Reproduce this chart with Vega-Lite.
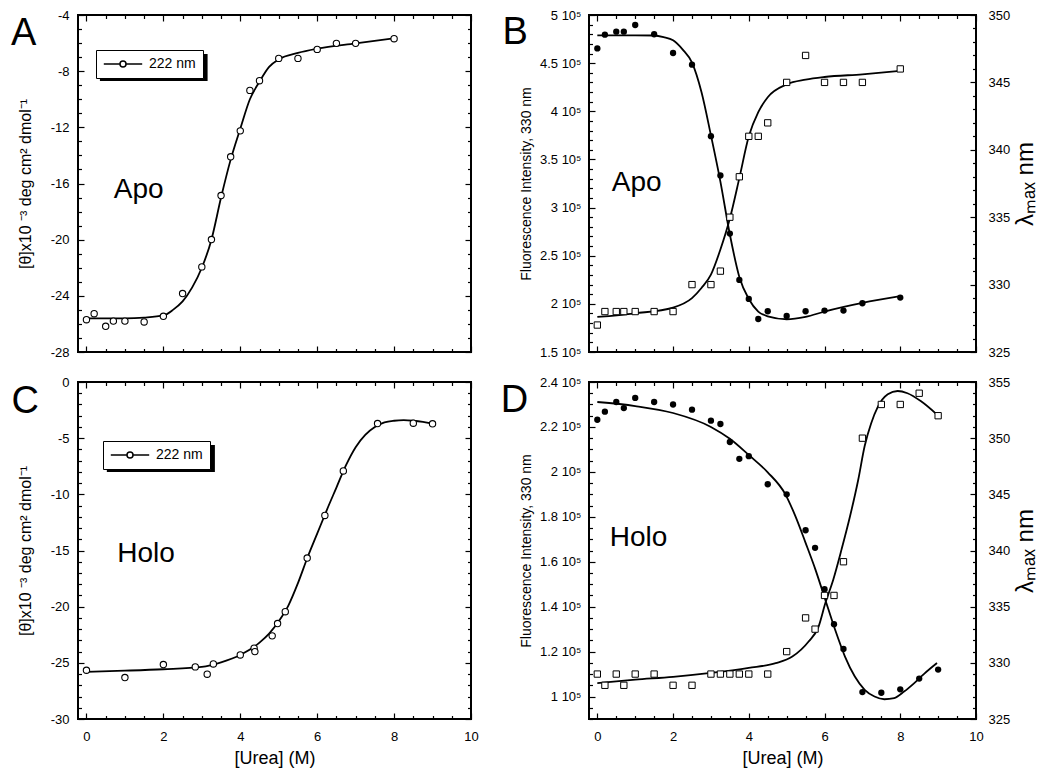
{
  "$schema": "https://vega.github.io/schema/vega-lite/v6.json",
  "padding": {"left": 10, "top": 8, "right": 5, "bottom": 5},
  "datasets": {
    "cdApo": [
      {"urea": 0, "theta": -25.7}, {"urea": 0.2, "theta": -25.27}, {"urea": 0.5, "theta": -26.17}, {"urea": 0.7, "theta": -25.8},
      {"urea": 1.0, "theta": -25.8}, {"urea": 1.5, "theta": -25.86}, {"urea": 2.0, "theta": -25.46}, {"urea": 2.5, "theta": -23.84},
      {"urea": 3.0, "theta": -21.94}, {"urea": 3.25, "theta": -19.99}, {"urea": 3.5, "theta": -16.86}, {"urea": 3.75, "theta": -14.1},
      {"urea": 4.0, "theta": -12.25}, {"urea": 4.25, "theta": -9.37}, {"urea": 4.5, "theta": -8.68}, {"urea": 5.0, "theta": -7.09},
      {"urea": 5.5, "theta": -7.09}, {"urea": 6.0, "theta": -6.45}, {"urea": 6.5, "theta": -6.02}, {"urea": 7.0, "theta": -6.02},
      {"urea": 8.0, "theta": -5.69}
    ],
    "cdApoFit": [
      {"urea": 0, "theta": -25.6}, {"urea": 0.5, "theta": -25.6}, {"urea": 1, "theta": -25.6}, {"urea": 1.5, "theta": -25.55},
      {"urea": 2, "theta": -25.4}, {"urea": 2.25, "theta": -25.0}, {"urea": 2.5, "theta": -24.4}, {"urea": 2.75, "theta": -23.4},
      {"urea": 3, "theta": -22.0}, {"urea": 3.25, "theta": -20.0}, {"urea": 3.5, "theta": -17.0}, {"urea": 3.75, "theta": -14.3},
      {"urea": 4, "theta": -12.1}, {"urea": 4.25, "theta": -10.0}, {"urea": 4.5, "theta": -8.75}, {"urea": 4.75, "theta": -7.7},
      {"urea": 5, "theta": -7.16}, {"urea": 5.5, "theta": -6.7}, {"urea": 6, "theta": -6.4}, {"urea": 7, "theta": -6.02},
      {"urea": 8, "theta": -5.66}
    ],
    "cdHolo": [
      {"urea": 0, "theta": -25.66}, {"urea": 1, "theta": -26.31}, {"urea": 2, "theta": -25.15}, {"urea": 2.83, "theta": -25.36},
      {"urea": 3.14, "theta": -26.01}, {"urea": 3.3, "theta": -25.1}, {"urea": 4, "theta": -24.3}, {"urea": 4.36, "theta": -23.7},
      {"urea": 4.38, "theta": -24.0}, {"urea": 4.83, "theta": -22.6}, {"urea": 4.97, "theta": -21.5}, {"urea": 5.17, "theta": -20.45},
      {"urea": 5.74, "theta": -15.67}, {"urea": 6.2, "theta": -11.88}, {"urea": 6.68, "theta": -7.92}, {"urea": 7.57, "theta": -3.7},
      {"urea": 8.5, "theta": -3.67}, {"urea": 9.0, "theta": -3.72}
    ],
    "cdHoloFit": [
      {"urea": 0, "theta": -25.8}, {"urea": 1, "theta": -25.7}, {"urea": 2, "theta": -25.57}, {"urea": 3, "theta": -25.36},
      {"urea": 3.5, "theta": -24.95}, {"urea": 4, "theta": -24.3}, {"urea": 4.5, "theta": -23.2}, {"urea": 4.75, "theta": -22.4},
      {"urea": 5, "theta": -21.3}, {"urea": 5.25, "theta": -19.9}, {"urea": 5.5, "theta": -17.9}, {"urea": 5.75, "theta": -15.6},
      {"urea": 6, "theta": -13.5}, {"urea": 6.25, "theta": -11.4}, {"urea": 6.5, "theta": -9.4}, {"urea": 6.75, "theta": -7.4},
      {"urea": 7, "theta": -5.8}, {"urea": 7.25, "theta": -4.7}, {"urea": 7.5, "theta": -4.0}, {"urea": 7.75, "theta": -3.6},
      {"urea": 8, "theta": -3.45}, {"urea": 8.25, "theta": -3.4}, {"urea": 8.5, "theta": -3.45}, {"urea": 8.75, "theta": -3.55},
      {"urea": 9, "theta": -3.7}
    ],
    "flApo": [
      {"urea": 0, "intensity": 465300, "lambda": 327}, {"urea": 0.2, "intensity": 479600, "lambda": 328},
      {"urea": 0.5, "intensity": 482700, "lambda": 328}, {"urea": 0.7, "intensity": 482700, "lambda": 328},
      {"urea": 1.0, "intensity": 489600, "lambda": 328}, {"urea": 1.5, "intensity": 480000, "lambda": 328},
      {"urea": 2.0, "intensity": 460500, "lambda": 328}, {"urea": 2.5, "intensity": 448400, "lambda": 330},
      {"urea": 3.0, "intensity": 374200, "lambda": 330}, {"urea": 3.25, "intensity": 333300, "lambda": 331},
      {"urea": 3.5, "intensity": 273000, "lambda": 335}, {"urea": 3.75, "intensity": 224900, "lambda": 338},
      {"urea": 4.0, "intensity": 205100, "lambda": 341}, {"urea": 4.25, "intensity": 184300, "lambda": 341},
      {"urea": 4.5, "intensity": 192300, "lambda": 342}, {"urea": 5.0, "intensity": 187500, "lambda": 345},
      {"urea": 5.5, "intensity": 192300, "lambda": 347}, {"urea": 6.0, "intensity": 193000, "lambda": 345},
      {"urea": 6.5, "intensity": 193000, "lambda": 345}, {"urea": 7.0, "intensity": 200600, "lambda": 345},
      {"urea": 8.0, "intensity": 206500, "lambda": 346}
    ],
    "flApoFit": [
      {"urea": 0, "intensity": 478900}, {"urea": 1, "intensity": 478900}, {"urea": 1.5, "intensity": 478700},
      {"urea": 1.75, "intensity": 477000}, {"urea": 2, "intensity": 473700}, {"urea": 2.25, "intensity": 464300},
      {"urea": 2.5, "intensity": 450500}, {"urea": 2.75, "intensity": 420000}, {"urea": 3, "intensity": 375000},
      {"urea": 3.25, "intensity": 327000}, {"urea": 3.5, "intensity": 272000}, {"urea": 3.75, "intensity": 228000},
      {"urea": 4, "intensity": 205000}, {"urea": 4.25, "intensity": 192000}, {"urea": 4.5, "intensity": 187000},
      {"urea": 5, "intensity": 184000}, {"urea": 5.5, "intensity": 186500}, {"urea": 6, "intensity": 192000},
      {"urea": 7, "intensity": 201000}, {"urea": 8, "intensity": 208000}
    ],
    "lmApoFit": [
      {"urea": 0, "lambda": 327.6}, {"urea": 1, "lambda": 327.87}, {"urea": 2, "lambda": 328.3}, {"urea": 2.5, "lambda": 329.0},
      {"urea": 2.75, "lambda": 329.75}, {"urea": 3, "lambda": 330.74}, {"urea": 3.25, "lambda": 332.6}, {"urea": 3.5, "lambda": 334.9},
      {"urea": 3.75, "lambda": 337.9}, {"urea": 4, "lambda": 341.0}, {"urea": 4.25, "lambda": 342.8}, {"urea": 4.5, "lambda": 343.9},
      {"urea": 5, "lambda": 344.85}, {"urea": 5.5, "lambda": 345.2}, {"urea": 6, "lambda": 345.4}, {"urea": 7, "lambda": 345.6},
      {"urea": 8, "lambda": 345.85}
    ],
    "flHolo": [
      {"urea": 0, "intensity": 223200, "lambda": 329}, {"urea": 0.2, "intensity": 226800, "lambda": 328},
      {"urea": 0.5, "intensity": 231100, "lambda": 329}, {"urea": 0.7, "intensity": 228400, "lambda": 328},
      {"urea": 1.0, "intensity": 232900, "lambda": 329}, {"urea": 1.5, "intensity": 231100, "lambda": 329},
      {"urea": 2.0, "intensity": 230000, "lambda": 328}, {"urea": 2.5, "intensity": 227700, "lambda": 328},
      {"urea": 3.0, "intensity": 222800, "lambda": 329}, {"urea": 3.25, "intensity": 221300, "lambda": 329},
      {"urea": 3.5, "intensity": 213300, "lambda": 329}, {"urea": 3.75, "intensity": 205800, "lambda": 329},
      {"urea": 4.0, "intensity": 207000, "lambda": 329}, {"urea": 4.5, "intensity": 194500, "lambda": 329},
      {"urea": 5.0, "intensity": 190000, "lambda": 331}, {"urea": 5.5, "intensity": 174000, "lambda": 334},
      {"urea": 5.75, "intensity": 166200, "lambda": 333}, {"urea": 6.0, "intensity": 147800, "lambda": 336},
      {"urea": 6.25, "intensity": 132200, "lambda": 336}, {"urea": 6.5, "intensity": 121200, "lambda": 339},
      {"urea": 7.0, "intensity": 102000, "lambda": 350}, {"urea": 7.5, "intensity": 101700, "lambda": 353},
      {"urea": 8.0, "intensity": 103200, "lambda": 353}, {"urea": 8.5, "intensity": 108000, "lambda": 354},
      {"urea": 9.0, "intensity": 112000, "lambda": 352}
    ],
    "flHoloFit": [
      {"urea": 0, "intensity": 231100}, {"urea": 1, "intensity": 229300}, {"urea": 2, "intensity": 226200},
      {"urea": 3, "intensity": 220000}, {"urea": 3.5, "intensity": 214700}, {"urea": 4, "intensity": 207500},
      {"urea": 4.5, "intensity": 199800}, {"urea": 4.97, "intensity": 189900},
      {"urea": 5.23, "intensity": 180300}, {"urea": 5.5, "intensity": 168400}, {"urea": 5.76, "intensity": 156500},
      {"urea": 6.02, "intensity": 143100}, {"urea": 6.28, "intensity": 129700}, {"urea": 6.54, "intensity": 117800},
      {"urea": 6.8, "intensity": 108900}, {"urea": 7.06, "intensity": 103000}, {"urea": 7.32, "intensity": 100000},
      {"urea": 7.58, "intensity": 98800}, {"urea": 7.84, "intensity": 99300}, {"urea": 8.1, "intensity": 102200},
      {"urea": 8.37, "intensity": 106000}, {"urea": 8.63, "intensity": 110100}, {"urea": 8.97, "intensity": 114900}
    ],
    "lmHoloFit": [
      {"urea": 0, "lambda": 328.2}, {"urea": 1, "lambda": 328.5}, {"urea": 2, "lambda": 328.75}, {"urea": 3, "lambda": 329.1},
      {"urea": 4, "lambda": 329.55}, {"urea": 4.71, "lambda": 329.97}, {"urea": 5.15, "lambda": 330.56}, {"urea": 5.58, "lambda": 331.9},
      {"urea": 5.84, "lambda": 333.2}, {"urea": 6.02, "lambda": 335.3}, {"urea": 6.23, "lambda": 337.4}, {"urea": 6.45, "lambda": 340.1},
      {"urea": 6.67, "lambda": 343.0}, {"urea": 6.89, "lambda": 346.3}, {"urea": 7.06, "lambda": 349.3}, {"urea": 7.23, "lambda": 351.3},
      {"urea": 7.41, "lambda": 352.8}, {"urea": 7.67, "lambda": 353.9}, {"urea": 7.93, "lambda": 354.2}, {"urea": 8.19, "lambda": 354.0},
      {"urea": 8.54, "lambda": 353.3}, {"urea": 8.97, "lambda": 352.1}
    ]
  },
  "columns": 2,
  "spacing": {"row": 30, "column": 118},
  "bounds": "flush",
  "resolve": {"scale": {"color": "independent"}, "legend": {"color": "independent"}},
  "concat": [
    {
      "width": 393, "height": 337,
      "layer": [
        {
          "data": {"values": [{}]},
          "mark": {"type": "rect", "color": "black", "opacity": 1},
          "encoding": {
            "x": {"datum": 0.35, "type": "quantitative", "scale": {"domain": [-0.22, 10], "nice": false, "zero": false}, "axis": null},
            "x2": {"datum": 3.15},
            "y": {"datum": -6.78, "type": "quantitative", "scale": {"domain": [-28, -4], "nice": false, "zero": false}, "axis": null},
            "y2": {"datum": -8.7}
          }
        },
        {
          "data": {"name": "cdApoFit"},
          "mark": {"type": "line", "color": "black", "strokeWidth": 1.8, "interpolate": "monotone"},
          "encoding": {
            "x": {"field": "urea", "type": "quantitative", "scale": {"domain": [-0.22, 10], "nice": false, "zero": false},
                  "axis": {"orient": "bottom", "values": [0, 2, 4, 6, 8, 10], "tickSize": -6, "labels": false, "title": null}},
            "y": {"field": "theta", "type": "quantitative", "scale": {"domain": [-28, -4], "nice": false, "zero": false},
                  "axis": {"orient": "left", "values": [-28, -24, -20, -16, -12, -8, -4], "tickSize": -6, "labelPadding": 15,
                           "labelExpr": "datum.value + ''", "title": "[θ]x10 ⁻³ deg cm² dmol⁻¹", "titleFontSize": 16, "titlePadding": 17}}
          }
        },
        {
          "data": {"name": "cdApo"},
          "mark": {"type": "point", "shape": "circle", "filled": false, "fill": "white", "strokeWidth": 1.1, "size": 40, "opacity": 1},
          "encoding": {
            "x": {"field": "urea", "type": "quantitative", "scale": {"domain": [-0.22, 10], "nice": false, "zero": false},
                  "axis": {"orient": "bottom", "values": [0.5, 1, 1.5, 2.5, 3, 3.5, 4.5, 5, 5.5, 6.5, 7, 7.5, 8.5, 9, 9.5], "tickSize": -3.5, "labels": false, "title": null}},
            "y": {"field": "theta", "type": "quantitative", "scale": {"domain": [-28, -4], "nice": false, "zero": false},
                  "axis": {"orient": "left", "values": [-27, -26, -25, -23, -22, -21, -19, -18, -17, -15, -14, -13, -11, -10, -9, -7, -6, -5], "tickSize": -3.5, "labels": false, "title": null}},
            "color": {"datum": "222 nm", "type": "nominal", "scale": {"range": ["black"]},
                      "legend": {"title": null, "orient": "none", "legendX": 18, "legendY": 35,
                                 "symbolType": "M-3.2,0H-0.5M0.5,0H3.2M0.5,0A0.5,0.5,0,1,1,-0.5,0A0.5,0.5,0,1,1,0.5,0Z",
                                 "symbolSize": 144, "symbolOffset": 13, "labelFontSize": 14, "labelColor": "black", "labelOffset": 19,
                                 "padding": 7, "strokeColor": "black", "fillColor": "white",
                                 "encode": {"symbols": {"update": {"fill": {"value": "white"}, "stroke": {"value": "black"}, "strokeWidth": {"value": 1.5}, "opacity": {"value": 1}}},
                                            "legend": {"update": {"strokeWidth": {"value": 1.5}}}}}}
          }
        },
        {
          "data": {"values": [{}]},
          "mark": {"type": "text", "text": "Apo", "fontSize": 28, "align": "center", "baseline": "alphabetic", "color": "black"},
          "encoding": {
            "x": {"datum": 1.36, "type": "quantitative", "scale": {"domain": [-0.22, 10], "nice": false, "zero": false},
                  "axis": {"orient": "top", "values": [0, 2, 4, 6, 8, 10], "tickSize": -6, "labels": false, "title": null}},
            "y": {"datum": -17.0, "type": "quantitative", "scale": {"domain": [-28, -4], "nice": false, "zero": false},
                  "axis": {"orient": "right", "values": [-28, -24, -20, -16, -12, -8, -4], "tickSize": -6, "labels": false, "title": null}}
          }
        },
        {
          "data": {"values": [{}]},
          "mark": {"type": "text", "text": "A", "fontSize": 38, "align": "center", "baseline": "alphabetic", "color": "black"},
          "encoding": {
            "x": {"datum": -1.63, "type": "quantitative", "scale": {"domain": [-0.22, 10], "nice": false, "zero": false},
                  "axis": {"orient": "top", "values": [0.5, 1, 1.5, 2.5, 3, 3.5, 4.5, 5, 5.5, 6.5, 7, 7.5, 8.5, 9, 9.5], "tickSize": -3.5, "labels": false, "title": null}},
            "y": {"datum": -6.14, "type": "quantitative", "scale": {"domain": [-28, -4], "nice": false, "zero": false},
                  "axis": {"orient": "right", "values": [-27, -26, -25, -23, -22, -21, -19, -18, -17, -15, -14, -13, -11, -10, -9, -7, -6, -5], "tickSize": -3.5, "labels": false, "title": null}}
          }
        }
      ],
      "resolve": {"scale": {"x": "independent", "y": "independent"}, "axis": {"x": "independent", "y": "independent"}}
    },
    {
      "width": 387, "height": 337,
      "layer": [
        {
          "data": {"name": "flApoFit"},
          "mark": {"type": "line", "color": "black", "strokeWidth": 1.8, "interpolate": "monotone"},
          "encoding": {
            "x": {"field": "urea", "type": "quantitative", "scale": {"domain": [-0.22, 10], "nice": false, "zero": false},
                  "axis": {"orient": "bottom", "values": [0, 2, 4, 6, 8, 10], "tickSize": -6, "labels": false, "title": null}},
            "y": {"field": "intensity", "type": "quantitative", "scale": {"domain": [150000, 500000], "nice": false, "zero": false},
                  "axis": {"orient": "left", "values": [150000, 200000, 250000, 300000, 350000, 400000, 450000, 500000], "tickSize": -6, "labelPadding": 14,
                           "labelExpr": "datum.value / 100000 + ' 10⁵'", "title": "Fluorescence Intensity, 330 nm", "titleFontSize": 14, "titlePadding": 6}}
          }
        },
        {
          "data": {"name": "lmApoFit"},
          "mark": {"type": "line", "color": "black", "strokeWidth": 1.8, "interpolate": "monotone"},
          "encoding": {
            "x": {"field": "urea", "type": "quantitative", "scale": {"domain": [-0.22, 10], "nice": false, "zero": false},
                  "axis": {"orient": "top", "values": [0, 2, 4, 6, 8, 10], "tickSize": -6, "labels": false, "title": null}},
            "y": {"field": "lambda", "type": "quantitative", "scale": {"domain": [325, 350], "nice": false, "zero": false},
                  "axis": {"orient": "right", "values": [325, 330, 335, 340, 345, 350], "tickSize": -6, "labelPadding": 18,
                           "title": "λₘₐₓ nm", "titleFontSize": 24, "titleAngle": 270, "titlePadding": 28}}
          }
        },
        {
          "data": {"name": "flApo"},
          "mark": {"type": "circle", "color": "black", "size": 40, "opacity": 1},
          "encoding": {
            "x": {"field": "urea", "type": "quantitative", "scale": {"domain": [-0.22, 10], "nice": false, "zero": false},
                  "axis": {"orient": "bottom", "values": [0.5, 1, 1.5, 2.5, 3, 3.5, 4.5, 5, 5.5, 6.5, 7, 7.5, 8.5, 9, 9.5], "tickSize": -3.5, "labels": false, "title": null}},
            "y": {"field": "intensity", "type": "quantitative", "scale": {"domain": [150000, 500000], "nice": false, "zero": false},
                  "axis": {"orient": "left", "values": [160000, 170000, 180000, 190000, 210000, 220000, 230000, 240000, 260000, 270000, 280000, 290000, 310000, 320000, 330000, 340000, 360000, 370000, 380000, 390000, 410000, 420000, 430000, 440000, 460000, 470000, 480000, 490000], "tickSize": -3.5, "labels": false, "title": null}}
          }
        },
        {
          "data": {"name": "flApo"},
          "mark": {"type": "point", "shape": "square", "filled": false, "fill": "white", "stroke": "black", "strokeWidth": 1, "size": 40, "opacity": 1},
          "encoding": {
            "x": {"field": "urea", "type": "quantitative", "scale": {"domain": [-0.22, 10], "nice": false, "zero": false},
                  "axis": {"orient": "top", "values": [0.5, 1, 1.5, 2.5, 3, 3.5, 4.5, 5, 5.5, 6.5, 7, 7.5, 8.5, 9, 9.5], "tickSize": -3.5, "labels": false, "title": null}},
            "y": {"field": "lambda", "type": "quantitative", "scale": {"domain": [325, 350], "nice": false, "zero": false},
                  "axis": {"orient": "right", "values": [326, 327, 328, 329, 331, 332, 333, 334, 336, 337, 338, 339, 341, 342, 343, 344, 346, 347, 348, 349], "tickSize": -3.5, "labels": false, "title": null}}
          }
        },
        {
          "data": {"values": [{}]},
          "mark": {"type": "text", "text": "Apo", "fontSize": 28, "align": "center", "baseline": "alphabetic", "color": "black"},
          "encoding": {
            "x": {"datum": 1.04, "type": "quantitative", "scale": {"domain": [-0.22, 10], "nice": false, "zero": false}, "axis": null},
            "y": {"datum": 317000, "type": "quantitative", "scale": {"domain": [150000, 500000], "nice": false, "zero": false}, "axis": null}
          }
        },
        {
          "data": {"values": [{}]},
          "mark": {"type": "text", "text": "B", "fontSize": 38, "align": "center", "baseline": "alphabetic", "color": "black"},
          "encoding": {
            "x": {"datum": -2.17, "type": "quantitative", "scale": {"domain": [-0.22, 10], "nice": false, "zero": false}, "axis": null},
            "y": {"datum": 470000, "type": "quantitative", "scale": {"domain": [150000, 500000], "nice": false, "zero": false}, "axis": null}
          }
        }
      ],
      "resolve": {"scale": {"x": "independent", "y": "independent"}, "axis": {"x": "independent", "y": "independent"}}
    },
    {
      "width": 393, "height": 337,
      "layer": [
        {
          "data": {"values": [{}]},
          "mark": {"type": "rect", "color": "black", "opacity": 1},
          "encoding": {
            "x": {"datum": 0.53, "type": "quantitative", "scale": {"domain": [-0.22, 10], "nice": false, "zero": false}, "axis": null},
            "x2": {"datum": 3.34},
            "y": {"datum": -5.61, "type": "quantitative", "scale": {"domain": [-30, 0], "nice": false, "zero": false}, "axis": null},
            "y2": {"datum": -8.01}
          }
        },
        {
          "data": {"name": "cdHoloFit"},
          "mark": {"type": "line", "color": "black", "strokeWidth": 1.8, "interpolate": "monotone"},
          "encoding": {
            "x": {"field": "urea", "type": "quantitative", "scale": {"domain": [-0.22, 10], "nice": false, "zero": false},
                  "axis": {"orient": "bottom", "values": [0, 2, 4, 6, 8, 10], "tickSize": -6, "labelPadding": 17, "labelFlush": false,
                           "title": "[Urea] (M)", "titleFontSize": 18, "titlePadding": 6}},
            "y": {"field": "theta", "type": "quantitative", "scale": {"domain": [-30, 0], "nice": false, "zero": false},
                  "axis": {"orient": "left", "values": [-30, -25, -20, -15, -10, -5, 0], "tickSize": -6, "labelPadding": 15,
                           "labelExpr": "datum.value + ''", "title": "[θ]x10 ⁻³ deg cm² dmol⁻¹", "titleFontSize": 16, "titlePadding": 17}}
          }
        },
        {
          "data": {"name": "cdHolo"},
          "mark": {"type": "point", "shape": "circle", "filled": false, "fill": "white", "strokeWidth": 1.1, "size": 40, "opacity": 1},
          "encoding": {
            "x": {"field": "urea", "type": "quantitative", "scale": {"domain": [-0.22, 10], "nice": false, "zero": false},
                  "axis": {"orient": "bottom", "values": [0.5, 1, 1.5, 2.5, 3, 3.5, 4.5, 5, 5.5, 6.5, 7, 7.5, 8.5, 9, 9.5], "tickSize": -3.5, "labels": false, "title": null}},
            "y": {"field": "theta", "type": "quantitative", "scale": {"domain": [-30, 0], "nice": false, "zero": false},
                  "axis": {"orient": "left", "values": [-29, -28, -27, -26, -24, -23, -22, -21, -19, -18, -17, -16, -14, -13, -12, -11, -9, -8, -7, -6, -4, -3, -2, -1], "tickSize": -3.5, "labels": false, "title": null}},
            "color": {"datum": "222 nm", "type": "nominal", "scale": {"range": ["black"]},
                      "legend": {"title": null, "orient": "none", "legendX": 25, "legendY": 59,
                                 "symbolType": "M-3.2,0H-0.5M0.5,0H3.2M0.5,0A0.5,0.5,0,1,1,-0.5,0A0.5,0.5,0,1,1,0.5,0Z",
                                 "symbolSize": 144, "symbolOffset": 13, "labelFontSize": 14, "labelColor": "black", "labelOffset": 19,
                                 "padding": 7, "strokeColor": "black", "fillColor": "white",
                                 "encode": {"symbols": {"update": {"fill": {"value": "white"}, "stroke": {"value": "black"}, "strokeWidth": {"value": 1.5}, "opacity": {"value": 1}}},
                                            "legend": {"update": {"strokeWidth": {"value": 1.5}}}}}}
          }
        },
        {
          "data": {"values": [{}]},
          "mark": {"type": "text", "text": "Holo", "fontSize": 28, "align": "center", "baseline": "alphabetic", "color": "black"},
          "encoding": {
            "x": {"datum": 1.55, "type": "quantitative", "scale": {"domain": [-0.22, 10], "nice": false, "zero": false},
                  "axis": {"orient": "top", "values": [0, 2, 4, 6, 8, 10], "tickSize": -6, "labels": false, "title": null}},
            "y": {"datum": -16.0, "type": "quantitative", "scale": {"domain": [-30, 0], "nice": false, "zero": false},
                  "axis": {"orient": "right", "values": [-30, -25, -20, -15, -10, -5, 0], "tickSize": -6, "labels": false, "title": null}}
          }
        },
        {
          "data": {"values": [{}]},
          "mark": {"type": "text", "text": "C", "fontSize": 38, "align": "center", "baseline": "alphabetic", "color": "black"},
          "encoding": {
            "x": {"datum": -1.59, "type": "quantitative", "scale": {"domain": [-0.22, 10], "nice": false, "zero": false},
                  "axis": {"orient": "top", "values": [0.5, 1, 1.5, 2.5, 3, 3.5, 4.5, 5, 5.5, 6.5, 7, 7.5, 8.5, 9, 9.5], "tickSize": -3.5, "labels": false, "title": null}},
            "y": {"datum": -2.77, "type": "quantitative", "scale": {"domain": [-30, 0], "nice": false, "zero": false},
                  "axis": {"orient": "right", "values": [-29, -28, -27, -26, -24, -23, -22, -21, -19, -18, -17, -16, -14, -13, -12, -11, -9, -8, -7, -6, -4, -3, -2, -1], "tickSize": -3.5, "labels": false, "title": null}}
          }
        }
      ],
      "resolve": {"scale": {"x": "independent", "y": "independent"}, "axis": {"x": "independent", "y": "independent"}}
    },
    {
      "width": 387, "height": 337,
      "layer": [
        {
          "data": {"name": "flHoloFit"},
          "mark": {"type": "line", "color": "black", "strokeWidth": 1.8, "interpolate": "monotone"},
          "encoding": {
            "x": {"field": "urea", "type": "quantitative", "scale": {"domain": [-0.22, 10], "nice": false, "zero": false},
                  "axis": {"orient": "bottom", "values": [0, 2, 4, 6, 8, 10], "tickSize": -6, "labelPadding": 17, "labelFlush": false,
                           "title": "[Urea] (M)", "titleFontSize": 18, "titlePadding": 6}},
            "y": {"field": "intensity", "type": "quantitative", "scale": {"domain": [90000, 240000], "nice": false, "zero": false},
                  "axis": {"orient": "left", "values": [100000, 120000, 140000, 160000, 180000, 200000, 220000, 240000], "tickSize": -6, "labelPadding": 14,
                           "labelExpr": "datum.value / 100000 + ' 10⁵'", "title": "Fluorescence Intensity, 330 nm", "titleFontSize": 14, "titlePadding": 6}}
          }
        },
        {
          "data": {"name": "lmHoloFit"},
          "mark": {"type": "line", "color": "black", "strokeWidth": 1.8, "interpolate": "monotone"},
          "encoding": {
            "x": {"field": "urea", "type": "quantitative", "scale": {"domain": [-0.22, 10], "nice": false, "zero": false},
                  "axis": {"orient": "top", "values": [0, 2, 4, 6, 8, 10], "tickSize": -6, "labels": false, "title": null}},
            "y": {"field": "lambda", "type": "quantitative", "scale": {"domain": [325, 355], "nice": false, "zero": false},
                  "axis": {"orient": "right", "values": [325, 330, 335, 340, 345, 350, 355], "tickSize": -6, "labelPadding": 18,
                           "title": "λₘₐₓ nm", "titleFontSize": 24, "titleAngle": 270, "titlePadding": 28}}
          }
        },
        {
          "data": {"name": "flHolo"},
          "mark": {"type": "circle", "color": "black", "size": 40, "opacity": 1},
          "encoding": {
            "x": {"field": "urea", "type": "quantitative", "scale": {"domain": [-0.22, 10], "nice": false, "zero": false},
                  "axis": {"orient": "bottom", "values": [0.5, 1, 1.5, 2.5, 3, 3.5, 4.5, 5, 5.5, 6.5, 7, 7.5, 8.5, 9, 9.5], "tickSize": -3.5, "labels": false, "title": null}},
            "y": {"field": "intensity", "type": "quantitative", "scale": {"domain": [90000, 240000], "nice": false, "zero": false},
                  "axis": {"orient": "left", "values": [90000, 95000, 105000, 110000, 115000, 125000, 130000, 135000, 145000, 150000, 155000, 165000, 170000, 175000, 185000, 190000, 195000, 205000, 210000, 215000, 225000, 230000, 235000], "tickSize": -3.5, "labels": false, "title": null}}
          }
        },
        {
          "data": {"name": "flHolo"},
          "mark": {"type": "point", "shape": "square", "filled": false, "fill": "white", "stroke": "black", "strokeWidth": 1, "size": 40, "opacity": 1},
          "encoding": {
            "x": {"field": "urea", "type": "quantitative", "scale": {"domain": [-0.22, 10], "nice": false, "zero": false},
                  "axis": {"orient": "top", "values": [0.5, 1, 1.5, 2.5, 3, 3.5, 4.5, 5, 5.5, 6.5, 7, 7.5, 8.5, 9, 9.5], "tickSize": -3.5, "labels": false, "title": null}},
            "y": {"field": "lambda", "type": "quantitative", "scale": {"domain": [325, 355], "nice": false, "zero": false},
                  "axis": {"orient": "right", "values": [326, 327, 328, 329, 331, 332, 333, 334, 336, 337, 338, 339, 341, 342, 343, 344, 346, 347, 348, 349, 351, 352, 353, 354], "tickSize": -3.5, "labels": false, "title": null}}
          }
        },
        {
          "data": {"values": [{}]},
          "mark": {"type": "text", "text": "Holo", "fontSize": 28, "align": "center", "baseline": "alphabetic", "color": "black"},
          "encoding": {
            "x": {"datum": 1.09, "type": "quantitative", "scale": {"domain": [-0.22, 10], "nice": false, "zero": false}, "axis": null},
            "y": {"datum": 167200, "type": "quantitative", "scale": {"domain": [90000, 240000], "nice": false, "zero": false}, "axis": null}
          }
        },
        {
          "data": {"values": [{}]},
          "mark": {"type": "text", "text": "D", "fontSize": 38, "align": "center", "baseline": "alphabetic", "color": "black"},
          "encoding": {
            "x": {"datum": -2.19, "type": "quantitative", "scale": {"domain": [-0.22, 10], "nice": false, "zero": false}, "axis": null},
            "y": {"datum": 226800, "type": "quantitative", "scale": {"domain": [90000, 240000], "nice": false, "zero": false}, "axis": null}
          }
        }
      ],
      "resolve": {"scale": {"x": "independent", "y": "independent"}, "axis": {"x": "independent", "y": "independent"}}
    }
  ],
  "config": {
    "font": "Liberation Sans",
    "view": {"stroke": "black", "strokeWidth": 2},
    "axis": {"domain": false, "grid": false, "tickColor": "black", "tickWidth": 1.2, "labelColor": "black", "labelFontSize": 13,
             "labelOverlap": false, "labelFlush": false, "titleFontWeight": "normal", "titleColor": "black"},
    "legend": {"labelFontSize": 14}
  }
}
